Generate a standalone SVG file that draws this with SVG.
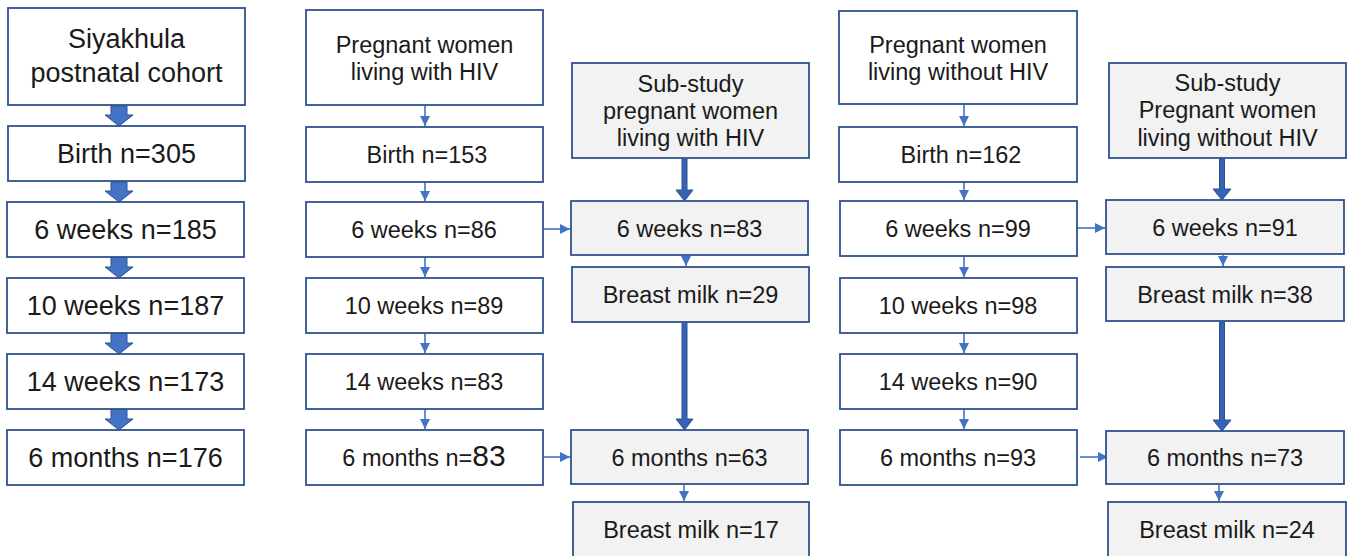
<svg xmlns="http://www.w3.org/2000/svg" width="1347" height="556" viewBox="0 0 1347 556">
<defs>
<style>
.b{fill:#ffffff;stroke:#2F528F;stroke-width:1.8}
.g{fill:#F2F2F2;stroke:#2F528F;stroke-width:1.8}
.t{font-family:"Liberation Sans",Arial,sans-serif;fill:#1a1a1a;text-anchor:middle}
.l{font-size:27px}
.s{font-size:23.5px}
.thin{stroke:#4472C4;stroke-width:1.6;fill:none;marker-end:url(#ah)}
.blk{fill:#4472C4;stroke:#2F528F;stroke-width:1}
.thk{fill:#3662B8;stroke:#2F528F;stroke-width:1}
</style>
<marker id="ah" markerUnits="userSpaceOnUse" markerWidth="12" markerHeight="12" refX="10" refY="5" orient="auto">
<path d="M0,0 L10,5 L0,10 Z" fill="#4472C4"/>
</marker>
</defs>
<rect width="1347" height="556" fill="#ffffff"/>

<g id="connectors">
<!-- column 1 block arrows -->
<polygon class="blk" points="111,106 127,106 127,115 133,115 119,126 105,115 111,115"/>
<polygon class="blk" points="111,182 127,182 127,191 133,191 119,202 105,191 111,191"/>
<polygon class="blk" points="111,257 127,257 127,267 133,267 119,278 105,267 111,267"/>
<polygon class="blk" points="111,333 127,333 127,343 133,343 119,354 105,343 111,343"/>
<polygon class="blk" points="111,409 127,409 127,419 133,419 119,430 105,419 111,419"/>
<!-- column 2 thin arrows -->
<line class="thin" x1="425" y1="106" x2="425" y2="126"/>
<line class="thin" x1="425" y1="182" x2="425" y2="201"/>
<line class="thin" x1="425" y1="257" x2="425" y2="277"/>
<line class="thin" x1="425" y1="333" x2="425" y2="353"/>
<line class="thin" x1="425" y1="409" x2="425" y2="429"/>
<!-- column 2 to 3 -->
<line class="thin" x1="543" y1="229" x2="570" y2="229"/>
<line class="thin" x1="543" y1="457" x2="570" y2="457"/>
<!-- column 3 -->
<polygon class="thk" points="682,159 687,159 687,190 693,190 684.5,201 676,190 682,190"/>
<line class="thin" x1="686" y1="256" x2="686" y2="266"/>
<polygon class="thk" points="682,322 687,322 687,419 693,419 684.5,430 676,419 682,419"/>
<line class="thin" x1="684" y1="485" x2="684" y2="501"/>
<!-- column 4 thin arrows -->
<line class="thin" x1="964" y1="105" x2="964" y2="126"/>
<line class="thin" x1="964" y1="182" x2="964" y2="200"/>
<line class="thin" x1="964" y1="257" x2="964" y2="277"/>
<line class="thin" x1="964" y1="333" x2="964" y2="353"/>
<line class="thin" x1="964" y1="409" x2="964" y2="429"/>
<!-- column 4 to 5 -->
<line class="thin" x1="1077" y1="228" x2="1105" y2="228"/>
<line class="thin" x1="1080" y1="457" x2="1108" y2="457"/>
<!-- column 5 -->
<polygon class="thk" points="1219.5,159 1224.5,159 1224.5,189 1231,189 1222,200 1213,189 1219.5,189"/>
<line class="thin" x1="1223" y1="255" x2="1223" y2="266"/>
<polygon class="thk" points="1219.5,322 1224.5,322 1224.5,420 1231,420 1222,431 1213,420 1219.5,420"/>
<line class="thin" x1="1219" y1="485" x2="1219" y2="501"/>
</g>

<g id="c1-title"><rect class="b" x="8" y="8" width="237" height="97"/><text class="t l" x="126.5" y="48">Siyakhula</text><text class="t l" x="126.5" y="82">postnatal cohort</text></g>
<g id="c1-birth"><rect class="b" x="8" y="126" width="237" height="55"/><text class="t l" x="126.5" y="163">Birth n=305</text></g>
<g id="c1-6w"><rect class="b" x="7" y="202" width="237" height="55"/><text class="t l" x="125.5" y="239">6 weeks n=185</text></g>
<g id="c1-10w"><rect class="b" x="7" y="278" width="237" height="55"/><text class="t l" x="125.5" y="315">10 weeks n=187</text></g>
<g id="c1-14w"><rect class="b" x="7" y="354" width="237" height="55"/><text class="t l" x="125.5" y="391">14 weeks n=173</text></g>
<g id="c1-6m"><rect class="b" x="7" y="430" width="237" height="55"/><text class="t l" x="125.5" y="467">6 months n=176</text></g>

<g id="c2-title"><rect class="b" x="306" y="10" width="237" height="95"/><text class="t s" x="424.5" y="53">Pregnant women</text><text class="t s" x="424.5" y="80">living with HIV</text></g>
<g id="c2-birth"><rect class="b" x="306" y="127" width="237" height="55"/><text class="t s" x="427" y="163">Birth n=153</text></g>
<g id="c2-6w"><rect class="b" x="306" y="202" width="237" height="55"/><text class="t s" x="424" y="238">6 weeks n=86</text></g>
<g id="c2-10w"><rect class="b" x="306" y="278" width="237" height="55"/><text class="t s" x="424" y="314">10 weeks n=89</text></g>
<g id="c2-14w"><rect class="b" x="306" y="354" width="237" height="55"/><text class="t s" x="424" y="390">14 weeks n=83</text></g>
<g id="c2-6m"><rect class="b" x="306" y="430" width="237" height="55"/><text class="t s" x="424" y="466">6 months n=<tspan font-size="30px">83</tspan></text></g>

<g id="c3-title"><rect class="g" x="572" y="63" width="237" height="95"/><text class="t s" x="690.5" y="92">Sub-study</text><text class="t s" x="690.5" y="119">pregnant women</text><text class="t s" x="690.5" y="146">living with HIV</text></g>
<g id="c3-6w"><rect class="g" x="571" y="201" width="237" height="54"/><text class="t s" x="689.5" y="237">6 weeks n=83</text></g>
<g id="c3-bm1"><rect class="g" x="572" y="267" width="237" height="55"/><text class="t s" x="690.5" y="303">Breast milk n=29</text></g>
<g id="c3-6m"><rect class="g" x="571" y="430" width="237" height="54"/><text class="t s" x="689.5" y="466">6 months n=63</text></g>
<g id="c3-bm2"><rect class="g" x="573" y="502" width="236" height="60"/><text class="t s" x="691" y="538">Breast milk n=17</text></g>

<g id="c4-title"><rect class="b" x="839" y="11" width="238" height="93"/><text class="t s" x="958" y="53">Pregnant women</text><text class="t s" x="958" y="80">living without HIV</text></g>
<g id="c4-birth"><rect class="b" x="839" y="127" width="238" height="55"/><text class="t s" x="961" y="163">Birth n=162</text></g>
<g id="c4-6w"><rect class="b" x="840" y="201" width="237" height="55"/><text class="t s" x="958" y="237">6 weeks n=99</text></g>
<g id="c4-10w"><rect class="b" x="840" y="278" width="237" height="55"/><text class="t s" x="958" y="314">10 weeks n=98</text></g>
<g id="c4-14w"><rect class="b" x="840" y="354" width="237" height="55"/><text class="t s" x="958" y="390">14 weeks n=90</text></g>
<g id="c4-6m"><rect class="b" x="840" y="430" width="237" height="55"/><text class="t s" x="958" y="466">6 months n=93</text></g>

<g id="c5-title"><rect class="g" x="1109" y="63" width="237" height="95"/><text class="t s" x="1227.5" y="91">Sub-study</text><text class="t s" x="1227.5" y="118">Pregnant women</text><text class="t s" x="1227.5" y="146">living without HIV</text></g>
<g id="c5-6w"><rect class="g" x="1106" y="200" width="238" height="54"/><text class="t s" x="1225" y="236">6 weeks n=91</text></g>
<g id="c5-bm1"><rect class="g" x="1106" y="267" width="238" height="54"/><text class="t s" x="1225" y="303">Breast milk n=38</text></g>
<g id="c5-6m"><rect class="g" x="1106" y="431" width="238" height="53"/><text class="t s" x="1225" y="466">6 months n=73</text></g>
<g id="c5-bm2"><rect class="g" x="1108" y="502" width="238" height="60"/><text class="t s" x="1227" y="538">Breast milk n=24</text></g>
</svg>
